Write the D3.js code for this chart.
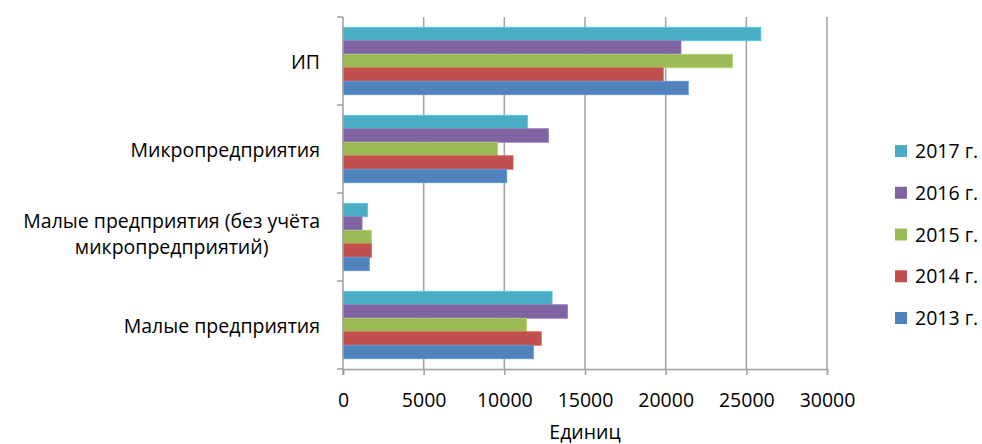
<!DOCTYPE html>
<html>
<head>
<meta charset="utf-8">
<script src="https://cdn.jsdelivr.net/npm/d3@7"></script>
<style>
  body { margin: 0; background: #fff; }
  text { font-family: "Open Sans", sans-serif; fill: #000; }
</style>
</head>
<body>
<div id="container"></div>
<script>
// Data
const categories = [
  "ИП",
  "Микропредприятия",
  "Малые предприятия (без учёта микропредприятий)",
  "Малые предприятия",
];
const categoryLines = [
  ["ИП"],
  ["Микропредприятия"],
  ["Малые предприятия (без учёта", "микропредприятий)"],
  ["Малые предприятия"],
];
const years = ["2017 г.", "2016 г.", "2015 г.", "2014 г.", "2013 г."];
const colors = ["#4BACC6", "#8064A2", "#9BBB59", "#C0504D", "#4F81BD"];
const values2017 = [25900, 11430, 1530, 12960];
const values2016 = [20950, 12730, 1180, 13910];
const values2015 = [24150, 9590, 1760, 11380];
const values2014 = [19850, 10540, 1760, 12290];
const values2013 = [21400, 10150, 1630, 11800];
const xTicks = [0, 5000, 10000, 15000, 20000, 25000, 30000];

const series = [values2017, values2016, values2015, values2014, values2013];

// Constants
const width = 982;
const height = 444;
const plotLeft = 343;
const plotRight = 827;
const plotTop = 17;
const plotBottom = 369;
const fontSize = "19.5px";
const labelRight = 320;

const svg = d3
  .select("#container")
  .append("svg")
  .attr("width", width)
  .attr("height", height);

// Scales
const xScale = d3.scaleLinear().domain([0, 30000]).range([plotLeft, plotRight]);
const yScale = d3.scaleBand().domain(categories).range([plotTop, plotBottom]);
const inner = d3
  .scaleBand()
  .domain(years)
  .range([0, yScale.bandwidth()])
  .paddingOuter(0.76)
  .paddingInner(0);

// Gridlines
svg
  .append("g")
  .selectAll("line")
  .data(xTicks.slice(1))
  .enter()
  .append("line")
  .attr("x1", (d) => xScale(d))
  .attr("x2", (d) => xScale(d))
  .attr("y1", plotTop)
  .attr("y2", plotBottom)
  .attr("stroke", "#a0a0a0")
  .attr("stroke-width", 1.5);

// Bars
const groups = svg
  .append("g")
  .selectAll("g")
  .data(series)
  .enter()
  .append("g")
  .attr("fill", (d, i) => colors[i]);

groups
  .selectAll("rect")
  .data((s, i) => s.map((v, j) => ({ v: v, cat: categories[j], year: years[i], i: i })))
  .enter()
  .append("rect")
  .attr("x", xScale(0))
  .attr("y", (d) => yScale(d.cat) + inner(d.year))
  .attr("width", (d) => xScale(d.v) - xScale(0))
  .attr("height", inner.bandwidth())
  .attr("stroke", (d) => d3.color(colors[d.i]).brighter(0.4))
  .attr("stroke-width", 0.8);

// Axes
const xAxis = d3
  .axisBottom(xScale)
  .tickValues(xTicks)
  .tickFormat(d3.format("d"))
  .tickSize(6)
  .tickPadding(18.5);
const gx = svg
  .append("g")
  .attr("transform", `translate(0,${plotBottom})`)
  .call(xAxis);
gx.select(".domain").attr("stroke", "#a0a0a0").attr("stroke-width", 1.5);
gx.selectAll(".tick line").attr("stroke", "#a0a0a0").attr("stroke-width", 1.5);
gx.selectAll(".tick text")
  .style("font-family", "Open Sans")
  .style("font-size", fontSize)
  .attr("fill", "#000");

// Left axis line and category ticks
svg
  .append("line")
  .attr("x1", plotLeft)
  .attr("x2", plotLeft)
  .attr("y1", plotTop)
  .attr("y2", plotBottom + 6)
  .attr("stroke", "#a0a0a0")
  .attr("stroke-width", 1.5);
const bounds = categories.map((c) => yScale(c)).concat([plotBottom]);
svg
  .append("g")
  .selectAll("line")
  .data(bounds)
  .enter()
  .append("line")
  .attr("x1", plotLeft - 6)
  .attr("x2", plotLeft)
  .attr("y1", (d) => d)
  .attr("y2", (d) => d)
  .attr("stroke", "#a0a0a0")
  .attr("stroke-width", 1.5);

// Category labels (multi-line ones are centred on their widest line)
const labels = svg
  .append("g")
  .selectAll("text")
  .data(categories)
  .enter()
  .append("text")
  .style("font-size", fontSize)
  .attr("text-anchor", "middle")
  .attr("transform", (d) => `translate(0,${yScale(d) + yScale.bandwidth() / 2})`);
labels
  .selectAll("tspan")
  .data((d, i) => categoryLines[i].map((t, k, arr) => ({ t: t, k: k, n: arr.length })))
  .enter()
  .append("tspan")
  .attr("y", (d) => (d.k - (d.n - 1) / 2) * 26.5 + (d.n > 1 ? 4 : 8))
  .text((d) => d.t);
labels.each(function () {
  const spans = d3.select(this).selectAll("tspan");
  let w = 0;
  spans.each(function () {
    w = Math.max(w, this.getComputedTextLength());
  });
  spans.attr("x", labelRight - w / 2);
});

// Axis title
svg
  .append("text")
  .attr("x", (plotLeft + plotRight) / 2)
  .attr("y", 439)
  .attr("text-anchor", "middle")
  .style("font-size", fontSize)
  .text("Единиц");

// Legend
const legend = svg.append("g");
const legendY = d3.scalePoint().domain(years).range([151, 318]);
legend
  .selectAll("rect")
  .data(years)
  .enter()
  .append("rect")
  .attr("x", 895)
  .attr("y", (d) => legendY(d) - 6)
  .attr("width", 12)
  .attr("height", 12)
  .attr("fill", (d, i) => colors[i]);
legend
  .selectAll("text")
  .data(years)
  .enter()
  .append("text")
  .attr("x", 915)
  .attr("y", (d) => legendY(d) + 7)
  .style("font-size", fontSize)
  .text((d) => d);
</script>
</body>
</html>
